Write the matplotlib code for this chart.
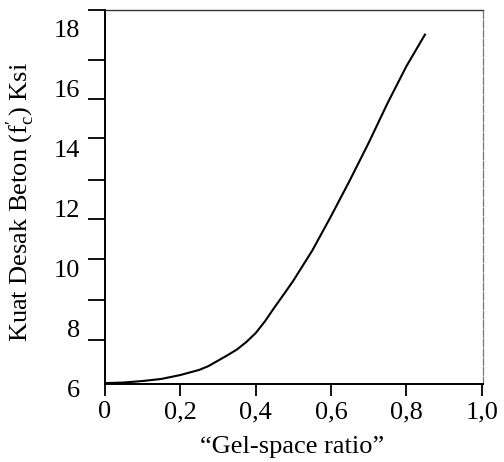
import numpy as np
import matplotlib
matplotlib.use('Agg')
import matplotlib.pyplot as plt
import matplotlib.transforms as mtransforms

plt.rcParams['font.family'] = ['Liberation Serif', 'DejaVu Serif']
plt.rcParams['mathtext.fontset'] = 'custom'
plt.rcParams['mathtext.rm'] = 'Liberation Serif'
plt.rcParams['mathtext.it'] = 'Liberation Serif'

# curve
ratio = [0, 0.05, 0.1, 0.15, 0.2, 0.25, 0.275, 0.3, 0.325, 0.35, 0.375,
         0.4, 0.425, 0.45, 0.475, 0.5, 0.55, 0.6, 0.65, 0.7, 0.75, 0.8, 0.849]
strength = [6.03, 6.05, 6.1, 6.17, 6.3, 6.47, 6.6, 6.78, 6.96, 7.15, 7.4,
            7.7, 8.1, 8.56, 9.0, 9.45, 10.45, 11.6, 12.8, 14.05, 15.37, 16.6, 17.65]

x_ticks = [0, 0.2, 0.4, 0.6, 0.8, 1.0]
x_labels = ['0', '0,2', '0,4', '0,6', '0,8', '1,0']
y_ticks = [6, 8, 10, 12, 14, 16, 18]
y_marks = [6, 7.47, 8.8, 10.17, 11.5, 12.8, 14.2, 15.5, 16.8]

fig = plt.figure(figsize=(5.04, 4.62), dpi=100)
ax = fig.add_axes([0.2083, 0.1688, 0.75, 0.8095])

ax.plot(ratio, strength, color='black', linewidth=1.5)

ax.set_xlim(0, 1.003)
ax.set_ylim(6, 18.47)

ax.set_xticks(x_ticks)
ax.set_xticklabels(x_labels)
ax.tick_params(axis='x', direction='out', length=8.5, width=1.3, pad=4, labelsize=19)

ax.set_yticks(y_ticks)
ax.set_yticks(y_marks + [18.47], minor=True)
ax.tick_params(axis='y', which='major', length=0, pad=18, labelsize=19)
ax.tick_params(axis='y', which='minor', direction='out', length=12, width=1.3)

# labels sit a little low in the original
offset = mtransforms.ScaledTranslation(0, -4 / 100, fig.dpi_scale_trans)
for lab in ax.get_yticklabels():
    lab.set_transform(lab.get_transform() + offset)

for side in ['left', 'bottom']:
    ax.spines[side].set_linewidth(1.4)
ax.spines['top'].set_color('#333333')
ax.spines['top'].set_linewidth(1.0)
ax.spines['right'].set_color('#777777')
ax.spines['right'].set_linewidth(0.9)
ax.spines['right'].set_linestyle((0, (6, 1.5)))

ax.set_xlabel('\u201cGel-space ratio\u201d', fontsize=19)
ax.xaxis.set_label_coords(0.495, -0.14)
ax.set_ylabel(r"Kuat Desak Beton (f$\mathregular{_c^{\prime}}$) Ksi", fontsize=19)
ax.yaxis.set_label_coords(-0.18, 0.487)

fig.savefig('out.png', dpi=100)
